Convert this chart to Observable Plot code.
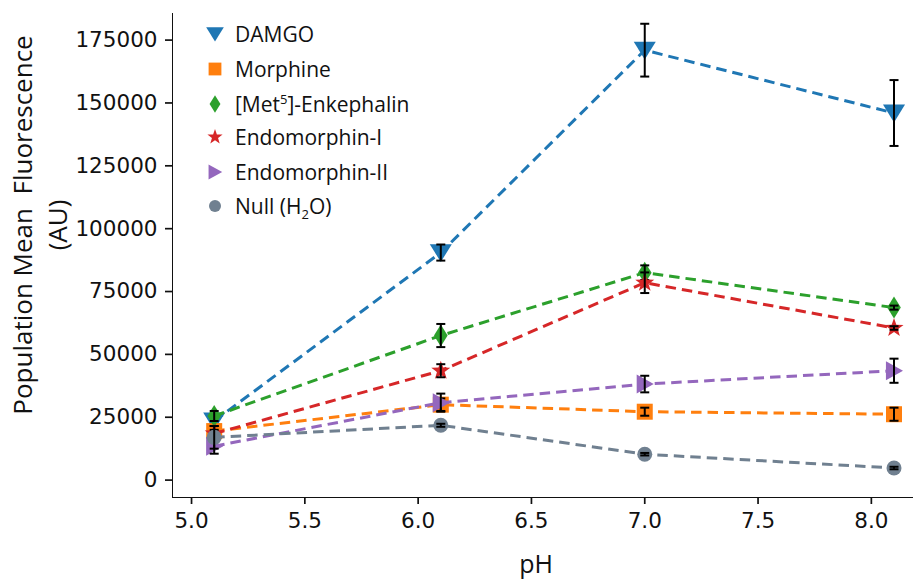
<!DOCTYPE html>
<html>
<head>
<meta charset="utf-8">
<script src="https://cdn.jsdelivr.net/npm/d3@7"></script>
<script src="https://cdn.jsdelivr.net/npm/@observablehq/plot@0.6"></script>
<style>
  body { margin: 0; background: white; }
  #wrap { position: relative; width: 913px; height: 581px; }
  #legend { position: absolute; left: 0; top: 0; font-family: "Open Sans", sans-serif; font-size: 21px; color: #111; }
  .row { position: absolute; height: 34px; display: flex; align-items: center; white-space: nowrap; }
  .row svg { position: absolute; left: 0; top: 0; }
  .row span.t { position: absolute; left: 33px; }
  sub, sup { font-size: 13px; line-height: 0; }
  g[aria-label*="axis"] line, g[aria-label*="axis"] path { stroke-width: 1.7px; }
</style>
</head>
<body>
<div id="wrap"></div>
<script>
// ---- data ----
const pH = [5.1, 6.1, 7.0, 8.1];
const seriesNames = ["DAMGO", "Morphine", "[Met5]-Enkephalin", "Endomorphin-I", "Endomorphin-II", "Null (H2O)"];
const damgo      = [23500, 90500, 171000, 146000];
const damgoErr   = [2000, 3200, 10500, 13100];
const morphine    = [19500, 30000, 27200, 26200];
const morphineErr = [2000, 2500, 1600, 2600];
const metEnk      = [25500, 57500, 82500, 68600];
const metEnkErr   = [2000, 4600, 2900, 800];
const endo1       = [18500, 43500, 78500, 60500];
const endo1Err    = [1500, 2600, 4100, 700];
const endo2       = [13500, 30800, 38200, 43500];
const endo2Err    = [3000, 3600, 3300, 4800];
const nullH2O     = [17000, 21800, 10300, 4800];
const nullErr     = [4500, 600, 500, 500];
const xTicks = [5.0, 5.5, 6.0, 6.5, 7.0, 7.5, 8.0];
const yTicks = [0, 25000, 50000, 75000, 100000, 125000, 150000, 175000];

// ---- symbols ----
const rad = (size) => Math.sqrt(size / Math.PI);
const downTri = {draw(c, s){ const r = rad(s); c.moveTo(-r*1.05, -r*0.8); c.lineTo(r*1.05, -r*0.8); c.lineTo(0, r*0.9); c.closePath(); }};
const rightTri = {draw(c, s){ const r = rad(s); c.moveTo(-r*0.85, -r); c.lineTo(r*0.95, 0); c.lineTo(-r*0.85, r); c.closePath(); }};
const thinDiamond = {draw(c, s){ const r = rad(s); c.moveTo(0, -r); c.lineTo(r*0.62, 0); c.lineTo(0, r); c.lineTo(-r*0.62, 0); c.closePath(); }};
const square = {draw(c, s){ const r = rad(s); c.rect(-r, -r, 2*r, 2*r); }};
const circle = {draw(c, s){ const r = rad(s); c.moveTo(r, 0); c.arc(0, 0, r, 0, 2*Math.PI); }};
const star = {draw(c, s){ const r = rad(s); const ri = r*0.4;
  for (let i = 0; i < 10; i++) { const a = -Math.PI/2 + i*Math.PI/5; const rr = i%2 ? ri : r;
    const x = rr*Math.cos(a), y = rr*Math.sin(a); if (i) c.lineTo(x, y); else c.moveTo(x, y); } c.closePath(); }};
const hline = {draw(c, s){ const r = rad(s); c.moveTo(-r, 0); c.lineTo(r, 0); }};

const series = [
  {name: seriesNames[0], html: "DAMGO", values: damgo, err: damgoErr, color: "#1f77b4", symbol: downTri, r: 10.5},
  {name: seriesNames[1], html: "Morphine", values: morphine, err: morphineErr, color: "#ff7f0e", symbol: square, r: 8},
  {name: seriesNames[2], html: "[Met<sup>5</sup>]-Enkephalin", values: metEnk, err: metEnkErr, color: "#2ca02c", symbol: thinDiamond, r: 11},
  {name: seriesNames[3], html: "Endomorphin-I", values: endo1, err: endo1Err, color: "#d62728", symbol: star, r: 10},
  {name: seriesNames[4], html: "Endomorphin-II", values: endo2, err: endo2Err, color: "#9467bd", symbol: rightTri, r: 9.5},
  {name: seriesNames[5], html: "Null (H<sub>2</sub>O)", values: nullH2O, err: nullErr, color: "#708090", symbol: circle, r: 7.5}
];

const marks = series.flatMap(s => {
  const rows = pH.map((x, i) => ({x, y: s.values[i], lo: s.values[i] - s.err[i], hi: s.values[i] + s.err[i]}));
  return [
    Plot.line(rows, {x: "x", y: "y", stroke: s.color, strokeWidth: 3, strokeDasharray: "10.5,6", strokeLinecap: "butt"}),
    Plot.dot(rows, {x: "x", y: "y", symbol: s.symbol, r: s.r, fill: s.color, stroke: "none"}),
    Plot.ruleX(rows, {x: "x", y1: "lo", y2: "hi", stroke: "black", strokeWidth: 2}),
    Plot.dot(rows, {x: "x", y: "lo", symbol: hline, r: 4.5, fill: "none", stroke: "black", strokeWidth: 2}),
    Plot.dot(rows, {x: "x", y: "hi", symbol: hline, r: 4.5, fill: "none", stroke: "black", strokeWidth: 2})
  ];
});

const chart = Plot.plot({
  width: 913, height: 581,
  marginLeft: 172, marginRight: 0, marginTop: 13, marginBottom: 84,
  style: {fontFamily: "DejaVu Sans", fontSize: "21.5px", color: "#111", background: "white", overflow: "visible"},
  x: {domain: [4.916, 8.186], ticks: xTicks, tickFormat: d3.format(".1f"), line: true, tickSize: 7, tickPadding: 8, label: null},
  y: {domain: [-6920, 185580], ticks: yTicks, tickFormat: d3.format("d"), line: true, tickSize: 7, tickPadding: 8, label: null},
  marks
});
document.getElementById("wrap").appendChild(chart);

// axis titles
const svg = d3.select(chart);
svg.append("text").attr("x", 536).attr("y", 563).attr("text-anchor", "middle").attr("dominant-baseline", "central")
  .style("font-family", "'Open Sans', sans-serif").style("font-size", "25px").attr("fill", "#111").text("pH");
const yl = svg.append("g").attr("transform", "translate(0,225) rotate(-90)")
  .style("font-family", "'Open Sans', sans-serif").style("font-size", "26px").attr("fill", "#111");
yl.append("text").attr("x", 0).attr("y", 22).attr("text-anchor", "middle").attr("dominant-baseline", "central").attr("xml:space", "preserve").text("Population Mean  Fluorescence");
yl.append("text").attr("x", 0).attr("y", 57).attr("text-anchor", "middle").attr("dominant-baseline", "central").text("(AU)");

// legend
const legend = document.createElement("div");
legend.id = "legend";
const rowY = [34, 69, 103.5, 137, 171.5, 205.5];
series.forEach((s, i) => {
  const row = document.createElement("div");
  row.className = "row";
  row.style.left = "202px";
  row.style.top = (rowY[i] - 17) + "px";
  const path = d3.symbol(s.symbol, Math.PI * (s.r * 0.8) ** 2)();
  row.innerHTML = `<svg width="26" height="34"><path transform="translate(13,17)" d="${path}" fill="${s.color}"/></svg><span class="t">${s.html}</span>`;
  legend.appendChild(row);
});
document.getElementById("wrap").appendChild(legend);
</script>
</body>
</html>
